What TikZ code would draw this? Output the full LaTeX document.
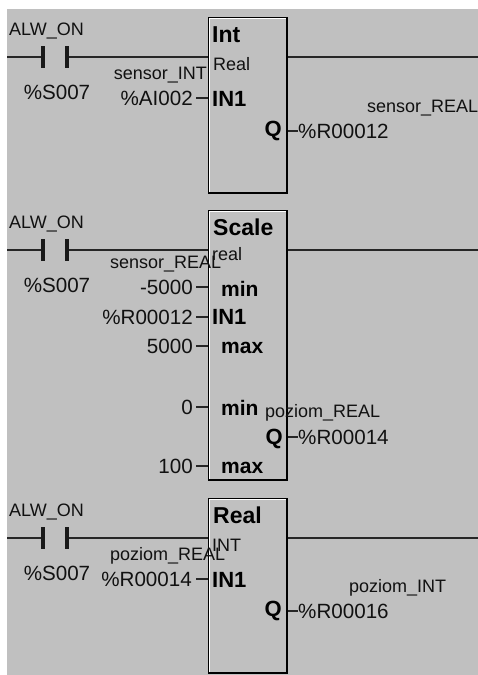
\documentclass[tikz,border=0pt]{standalone}
\usepackage{fontspec}
\setmainfont{Liberation Sans}
\definecolor{panelgrey}{HTML}{C0C0C0}
\definecolor{inktext}{HTML}{111111}

\begin{document}
\begin{tikzpicture}[
	x=1pt, y=-1pt,
	fblock/.style={rectangle, draw=black, line width=1.6pt, fill=panelgrey, inner sep=0pt, anchor=north west},
	contactbar/.style={rectangle, fill=black!90, inner sep=0pt, minimum width=3.2pt, minimum height=22pt},
	wire/.style={line width=1.5pt, black!85},
	wiretick/.style={line width=1.3pt, black!85},
	varlabel/.style={inner sep=0pt, text=inktext, font=\fontsize{18}{20}\selectfont},
	operand/.style={inner sep=0pt, text=inktext, font=\fontsize{20.6}{22}\selectfont},
	blocktitle/.style={inner sep=0pt, anchor=west, text=black, font=\fontsize{23}{25}\selectfont\bfseries},
	pinlabel/.style={inner sep=0pt, text=black, font=\fontsize{22}{24}\selectfont\bfseries},
	rangepin/.style={inner sep=0pt, anchor=west, text=black, font=\fontsize{21}{23}\selectfont\bfseries}
	]
	\useasboundingbox (0,0) rectangle (478,675);
	\fill[panelgrey] (7,9) rectangle (478,675);

	% function blocks
	\node[fblock, minimum width=78pt, minimum height=175pt] (int-block) at (208,17) {};
	\node[fblock, minimum width=78pt, minimum height=269pt] (scale-block) at (208,210) {};
	\node[fblock, minimum width=78pt, minimum height=174pt] (real-block) at (208,498) {};
	\foreach \blockname in {int-block, scale-block, real-block} {
		\draw[white, line width=.9pt] ([xshift=1.7pt, yshift=1.7pt]\blockname.south west) -- ([xshift=1.7pt, yshift=-1.7pt]\blockname.north west) -- ([xshift=-1.7pt, yshift=-1.7pt]\blockname.north east);
	}

	% rungs with contacts
	\foreach \rungno/\rungy/\blockname in {1/57/int-block, 2/250/scale-block, 3/538/real-block} {
		\coordinate (rung\rungno-start) at (7,\rungy);
		\coordinate (rung\rungno-end) at (478,\rungy);
		\node[contactbar] (contact\rungno-l) at (43,\rungy) {};
		\node[contactbar] (contact\rungno-r) at (67,\rungy) {};
		\node[varlabel, anchor=west] (alw\rungno) at (9,\rungy-26) {ALW\_ON};
		\node[operand] (bit\rungno) at (57,\rungy+35) {\%S007};
		\draw[wire] (rung\rungno-start) -- (contact\rungno-l);
		\draw[wire] (contact\rungno-r) -- (contact\rungno-r -| \blockname.west);
		\draw[wire] (contact\rungno-r -| \blockname.east) -- (rung\rungno-end);
	}

	% Int block
	\node[blocktitle] (int-title) at (212,35) {Int};
	\node[varlabel, anchor=west] (int-type) at (213,64) {Real};
	\node[varlabel, anchor=east] (int-var) at (207,75) {sensor\_INT};
	\node[operand, anchor=east] (int-in) at (193,98) {\%AI002};
	\node[pinlabel, anchor=west] (int-in1) at (212,99) {IN1};
	\node[pinlabel, anchor=east] (int-q) at (282,131) {Q};
	\node[operand, anchor=west] (int-out) at (298,131) {\%R00012};
	\node[varlabel, anchor=west] (int-outvar) at (367,108) {sensor\_REAL};
	\draw[wiretick, shorten <=3pt] (int-in.east) -- (int-in.east -| int-block.west);
	\draw[wiretick] (int-out.west -| int-block.east) -- (int-out.west);

	% Scale block
	\node[blocktitle] (scale-title) at (213,227) {Scale};
	\node[varlabel, anchor=west] (scale-type) at (212,254) {real};
	\node[varlabel, anchor=west] (scale-var) at (110,264) {sensor\_REAL};
	\node[operand, anchor=east] (scale-lo) at (193,287) {-5000};
	\node[rangepin] (scale-lopin) at (221,289) {min};
	\node[operand, anchor=east] (scale-in) at (193,317) {\%R00012};
	\node[pinlabel, anchor=west] (scale-in1) at (212,317) {IN1};
	\node[operand, anchor=east] (scale-hi) at (193,346) {5000};
	\node[rangepin] (scale-hipin) at (221,348) {max};
	\node[operand, anchor=east] (scale-lo2) at (193,407) {0};
	\node[rangepin] (scale-lo2pin) at (221,408) {min};
	\node[varlabel, anchor=west] (scale-outvar) at (265,413) {poziom\_REAL};
	\node[pinlabel, anchor=east] (scale-q) at (283,439) {Q};
	\node[operand, anchor=west] (scale-out) at (298,437) {\%R00014};
	\node[operand, anchor=east] (scale-hi2) at (193,466) {100};
	\node[rangepin] (scale-hi2pin) at (221,468) {max};
	\foreach \pinname in {scale-lo, scale-in, scale-hi, scale-lo2, scale-hi2} {
		\draw[wiretick, shorten <=3pt] (\pinname.east) -- (\pinname.east -| scale-block.west);
	}
	\draw[wiretick] (scale-out.west -| scale-block.east) -- (scale-out.west);

	% Real block
	\node[blocktitle] (real-title) at (213,515) {Real};
	\node[varlabel, anchor=west] (real-type) at (212,545) {INT};
	\node[varlabel, anchor=west] (real-var) at (110,556) {poziom\_REAL};
	\node[operand, anchor=east] (real-in) at (192,579) {\%R00014};
	\node[pinlabel, anchor=west] (real-in1) at (212,580) {IN1};
	\node[pinlabel, anchor=east] (real-q) at (282,611) {Q};
	\node[operand, anchor=west] (real-out) at (298,611) {\%R00016};
	\node[varlabel, anchor=west] (real-outvar) at (349,588) {poziom\_INT};
	\draw[wiretick, shorten <=4pt] (real-in.east) -- (real-in.east -| real-block.west);
	\draw[wiretick] (real-out.west -| real-block.east) -- (real-out.west);
\end{tikzpicture}
\end{document}
